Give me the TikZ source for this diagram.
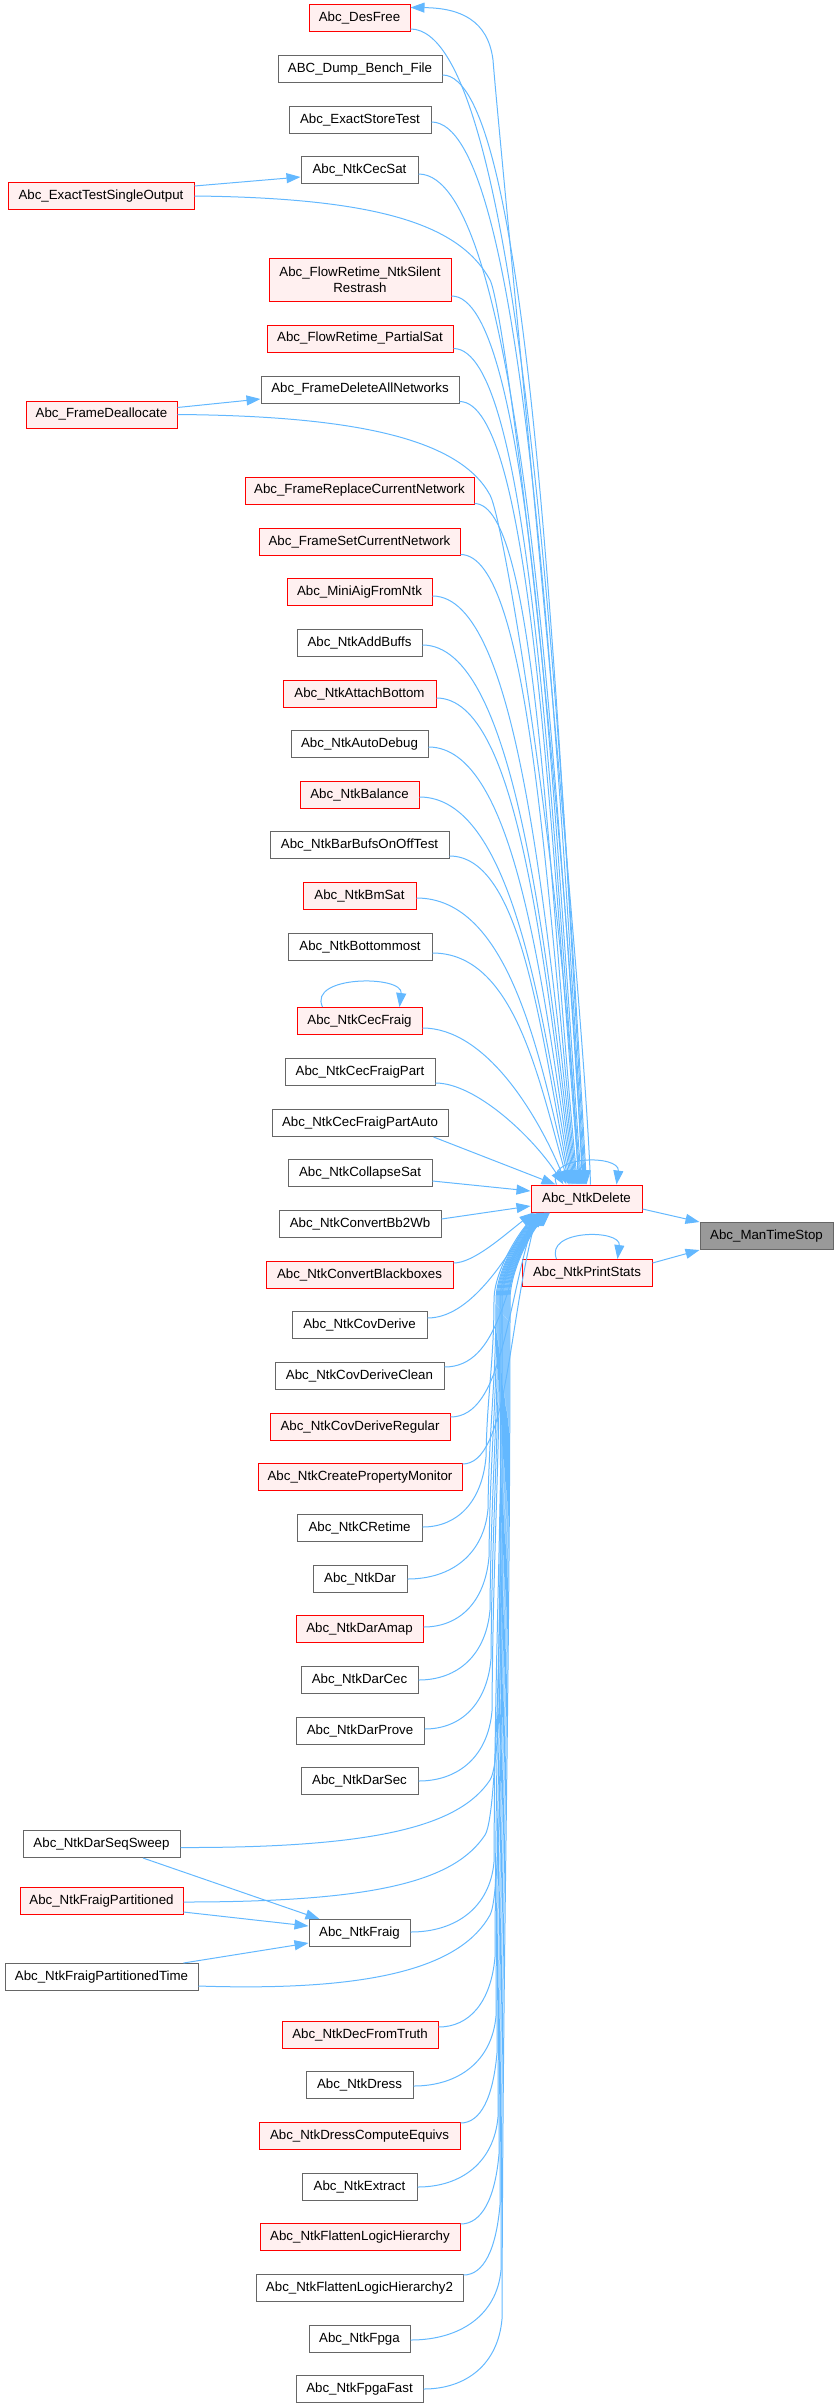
\documentclass[tikz,border=0pt]{standalone}
\usepackage{fontspec}
\setmainfont{Liberation Sans}
\usetikzlibrary{arrows.meta,calc}
\definecolor{edgec}{HTML}{63B8FF}
\definecolor{redb}{HTML}{FF0000}
\definecolor{redf}{HTML}{FFF0F0}
\definecolor{grayb}{HTML}{666666}
\definecolor{rootf}{HTML}{999999}
\tikzset{
  nbase/.style={rectangle, line width=1pt, minimum height=27pt, inner sep=0pt, font=\fontsize{13.3}{16}\selectfont, text=black},
  rbox/.style={nbase, draw=redb, fill=redf},
  gbox/.style={nbase, draw=grayb, fill=white},
  rootbox/.style={nbase, draw=grayb, fill=rootf},
  conn/.style={draw=edgec, color=edgec, line width=1pt, -{Triangle[length=14pt,width=10pt]}},
}
% edge from a caller above into the top of Abc_NtkDelete
\newcommand{\upE}[3]{\draw[conn] let \p1=($(#1.east)+(0,#2)$), \p2=($(del.north west)+(#3,0)$) in (\p1) .. controls ({\x1+min(0.6*(\x2-\x1),0.4*(\y1-\y2))},\y1) and ({\x2-30pt},{\y2+0.46*(\y1-\y2)}) .. (\p2);}
% edge from a near caller below into the lower left corner of Abc_NtkDelete
\newcommand{\loE}[3]{\draw[conn] let \p1=($(#1.east)+(0,#2)$), \p2=($(del.south west)+(#3,0)$) in (\p1) .. controls ({\x1+min(0.6*(\x2-\x1),0.4*(\y2-\y1))},\y1) and ({\x2-30pt},{\y2-0.46*(\y2-\y1)}) .. (\p2);}
% edge from a far caller below: tight bend, rise through the bundle at about x=#4, then into the corner
\newcommand{\loF}[4]{\draw[conn] let \p1=($(#1.east)+(0,#2)$), \p2=($(del.south west)+(#3,0)$), \p3=(#4,1300), \p4=({#4-8},0) in
 (\p1) .. controls ({\x1+0.55*(\x4-\x1)},\y1) and ({\x4-4pt},{\y1+25pt}) .. (\x4,{\y1+70pt})
 .. controls ({\x4+1pt},{\y1+70pt+0.4*(\y3-\y1-70pt)}) and (\x3,{\y3-0.4*(\y3-\y1-70pt)}) .. (\p3)
 .. controls (\x3,{\y3+30pt}) and ({\x2-18pt},{\y2-18pt}) .. (\p2);}
\begin{document}
\begin{tikzpicture}[x=1pt,y=-1pt]
\useasboundingbox (0,0) rectangle (838,2408);
% nodes
\node[rbox, minimum width=101pt] (desfree) at (359.5,18.5) {Abc\_DesFree};
\node[gbox, minimum width=164pt] (dump) at (360,69.5) {ABC\_Dump\_Bench\_File};
\node[gbox, minimum width=142pt] (exstore) at (360,120) {Abc\_ExactStoreTest};
\node[gbox, minimum width=117pt] (cecsat) at (359.5,170.5) {Abc\_NtkCecSat};
\node[rbox, minimum width=186pt] (ets) at (101,196) {Abc\_ExactTestSingleOutput};
\node[rbox, minimum width=182pt, minimum height=42pt, align=center] (flowa) at (360,280) {Abc\_FlowRetime\_NtkSilent\\Restrash};
\node[rbox, minimum width=186pt] (flowb) at (360,338.5) {Abc\_FlowRetime\_PartialSat};
\node[gbox, minimum width=198pt] (fdall) at (360,389.5) {Abc\_FrameDeleteAllNetworks};
\node[rbox, minimum width=151pt] (fdl) at (101.5,414.5) {Abc\_FrameDeallocate};
\node[rbox, minimum width=229pt] (frepl) at (359.5,490.5) {Abc\_FrameReplaceCurrentNetwork};
\node[rbox, minimum width=201pt] (fset) at (359.5,541.5) {Abc\_FrameSetCurrentNetwork};
\node[rbox, minimum width=145pt] (miniaig) at (359.5,592) {Abc\_MiniAigFromNtk};
\node[gbox, minimum width=125pt] (addbuf) at (359.5,643) {Abc\_NtkAddBuffs};
\node[rbox, minimum width=153pt] (attach) at (359.5,693.5) {Abc\_NtkAttachBottom};
\node[gbox, minimum width=137pt] (autodbg) at (359.5,744) {Abc\_NtkAutoDebug};
\node[rbox, minimum width=119pt] (balance) at (359.5,795) {Abc\_NtkBalance};
\node[gbox, minimum width=179pt] (barbufs) at (359.5,845) {Abc\_NtkBarBufsOnOffTest};
\node[rbox, minimum width=113pt] (bmsat) at (359.5,896) {Abc\_NtkBmSat};
\node[gbox, minimum width=144pt] (bottom) at (360,947) {Abc\_NtkBottommost};
\node[rbox, minimum width=125pt] (cecfraig) at (359.5,1021) {Abc\_NtkCecFraig};
\node[gbox, minimum width=150pt] (cfpart) at (360,1072) {Abc\_NtkCecFraigPart};
\node[gbox, minimum width=176pt] (cfauto) at (360,1123) {Abc\_NtkCecFraigPartAuto};
\node[gbox, minimum width=144pt] (collapse) at (360,1173) {Abc\_NtkCollapseSat};
\node[gbox, minimum width=162pt] (bb2wb) at (360,1224) {Abc\_NtkConvertBb2Wb};
\node[rbox, minimum width=187pt] (blackbox) at (359.5,1275) {Abc\_NtkConvertBlackboxes};
\node[gbox, minimum width=135pt] (covd) at (359.5,1325) {Abc\_NtkCovDerive};
\node[gbox, minimum width=169pt] (covdc) at (359.5,1376) {Abc\_NtkCovDeriveClean};
\node[rbox, minimum width=180pt] (covdr) at (360,1427) {Abc\_NtkCovDeriveRegular};
\node[rbox, minimum width=204pt] (cpm) at (360,1477) {Abc\_NtkCreatePropertyMonitor};
\node[gbox, minimum width=125pt] (cret) at (359.5,1528) {Abc\_NtkCRetime};
\node[gbox, minimum width=94pt] (dar) at (360,1579) {Abc\_NtkDar};
\node[rbox, minimum width=127pt] (daramap) at (359.5,1629) {Abc\_NtkDarAmap};
\node[gbox, minimum width=117pt] (darcec) at (359.5,1680) {Abc\_NtkDarCec};
\node[gbox, minimum width=128pt] (darprove) at (360,1731) {Abc\_NtkDarProve};
\node[gbox, minimum width=117pt] (darsec) at (359.5,1781) {Abc\_NtkDarSec};
\node[gbox, minimum width=157pt] (dss) at (101.5,1844) {Abc\_NtkDarSeqSweep};
\node[rbox, minimum width=163pt] (fp) at (101.5,1901) {Abc\_NtkFraigPartitioned};
\node[gbox, minimum width=101pt] (fraig) at (359.5,1933) {Abc\_NtkFraig};
\node[gbox, minimum width=193pt] (fpt) at (101.5,1977) {Abc\_NtkFraigPartitionedTime};
\node[rbox, minimum width=156pt] (decft) at (360,2035) {Abc\_NtkDecFromTruth};
\node[gbox, minimum width=107pt] (dress) at (359.5,2085) {Abc\_NtkDress};
\node[rbox, minimum width=201pt] (dce) at (359.5,2136) {Abc\_NtkDressComputeEquivs};
\node[gbox, minimum width=115pt] (extract) at (359.5,2187) {Abc\_NtkExtract};
\node[rbox, minimum width=200pt] (flh) at (360,2237) {Abc\_NtkFlattenLogicHierarchy};
\node[gbox, minimum width=207pt] (flh2) at (359.5,2288) {Abc\_NtkFlattenLogicHierarchy2};
\node[gbox, minimum width=101pt] (fpga) at (359.5,2339) {Abc\_NtkFpga};
\node[gbox, minimum width=127pt] (fpgafast) at (359.5,2389) {Abc\_NtkFpgaFast};
\node[rbox, minimum width=111pt] (del) at (586.5,1198.5) {Abc\_NtkDelete};
\node[rbox, minimum width=130pt] (ps) at (587,1273) {Abc\_NtkPrintStats};
\node[rootbox, minimum width=133pt] (mts) at (766.5,1236) {Abc\_ManTimeStop};
% edges into NtkDelete from above
\upE{desfree}{10.5}{56}
\upE{dump}{5.5}{55}
\upE{exstore}{2}{54}
\upE{cecsat}{3.5}{53}
\upE{flowa}{16}{51}
\upE{flowb}{10}{50}
\upE{fdall}{12}{49}
\upE{frepl}{13}{47}
\upE{fset}{13}{46}
\upE{miniaig}{4}{45}
\upE{addbuf}{2}{44}
\upE{attach}{4.5}{43}
\upE{autodbg}{3}{42}
\upE{balance}{2}{41}
\upE{barbufs}{11}{40}
\upE{bmsat}{2}{39}
\upE{bottom}{6}{38}
\upE{cecfraig}{7}{36}
\upE{cfpart}{11}{33}
\draw[conn] ($(cfauto.south east)+(-15,0)$) -- ($(del.north west)+(25,0)$);
\draw[conn] ($(collapse.east)+(0,8)$) -- ($(del.west)+(0,-7.5)$);
\draw[conn] ($(bb2wb.east)+(0,-5)$) -- ($(del.west)+(0,7.5)$);
% left column callers (upper)
\draw[conn] ($(ets.east)+(0,-10)$) -- ($(cecsat.west)+(0,6.5)$);
\draw[conn] (ets.east) .. controls (380,198) and (460,225) .. (490,280) .. controls (505,307) and (565,800) .. ($(del.north west)+(52,0)$);
\draw[conn] ($(fdl.east)+(0,-7)$) -- ($(fdall.west)+(0,9.5)$);
\draw[conn] (fdl.east) .. controls (360,416) and (460,440) .. (490,495) .. controls (505,522) and (565,900) .. ($(del.north west)+(48,0)$);
% edges into NtkDelete from below
\loE{blackbox}{-12}{3}
\loE{covd}{-7}{4}
\loE{covdc}{-9}{5}
\loE{covdr}{-10}{6}
\loE{cpm}{-13}{7}
\loF{cret}{-1}{8}{494}
\loF{dar}{0}{9}{496}
\loF{daramap}{-2}{10}{497}
\loF{darcec}{0}{11}{498}
\loF{darprove}{-2}{12}{499}
\loF{darsec}{0}{13}{500}
\loF{fraig}{-1}{15}{502}
\loF{decft}{-8}{16}{503}
\loF{dress}{1}{16.5}{504}
\loF{dce}{-13}{17}{505}
\loF{extract}{0}{17.5}{506}
\loF{flh}{-13}{18}{507}
\loF{flh2}{-13}{18.5}{508}
\loF{fpga}{1}{19}{509}
\loF{fpgafast}{0}{19.5}{510}
% left column callers (lower)
\draw[conn] ($(dss.east)+(0,3.5)$) .. controls (380,1848) and (460,1825) .. (490,1780) .. controls (505,1757) and (500,1550) .. (500,1300) .. controls (500,1270) and ($(del.south west)+(-4,18)$) .. ($(del.south west)+(14,0)$);
\draw[conn] ($(dss.south)+(41.5,0)$) -- ($(fraig.north west)+(11,0)$);
\draw[conn] ($(fp.east)+(0,1)$) .. controls (380,1902) and (455,1880) .. (485,1835) .. controls (500,1812) and (501,1550) .. (501,1300) .. controls (501,1270) and ($(del.south west)+(-3.5,18)$) .. ($(del.south west)+(14.5,0)$);
\draw[conn] ($(fp.east)+(0,11)$) -- ($(fraig.west)+(0,-7)$);
\draw[conn] ($(fpt.north east)+(-15,0)$) -- ($(fraig.west)+(0,10)$);
\draw[conn] ($(fpt.east)+(0,9)$) .. controls (380,1992) and (462,1965) .. (490,1915) .. controls (505,1888) and (502,1550) .. (502,1300) .. controls (502,1270) and ($(del.south west)+(-2.5,18)$) .. ($(del.south west)+(15.5,0)$);
% NtkDelete -> DesFree
\draw[conn] ($(del.north west)+(60,0)$) .. controls (585,1000) and (500,150) .. (493,60) .. controls (488,20) and (460,8) .. ($(desfree.north east)+(0,3)$);
% to root
\draw[conn] ($(del.east)+(0,10.5)$) -- ($(mts.west)+(0,-14)$);
\draw[conn] ($(ps.east)+(0,-10)$) -- ($(mts.west)+(0,14)$);
% self loops
\draw[conn] ($(del.north west)+(26,0)$) .. controls +(-12,-30) and +(4,-30) .. ($(del.north west)+(86,0)$);
\draw[conn] ($(ps.north west)+(35,0)$) .. controls +(-12,-30) and +(4,-30) .. ($(ps.north west)+(96,0)$);
\draw[conn] ($(cecfraig.north west)+(26,0)$) .. controls +(-15,-32) and +(4,-32) .. ($(cecfraig.north west)+(103,0)$);
\end{tikzpicture}
\end{document}
